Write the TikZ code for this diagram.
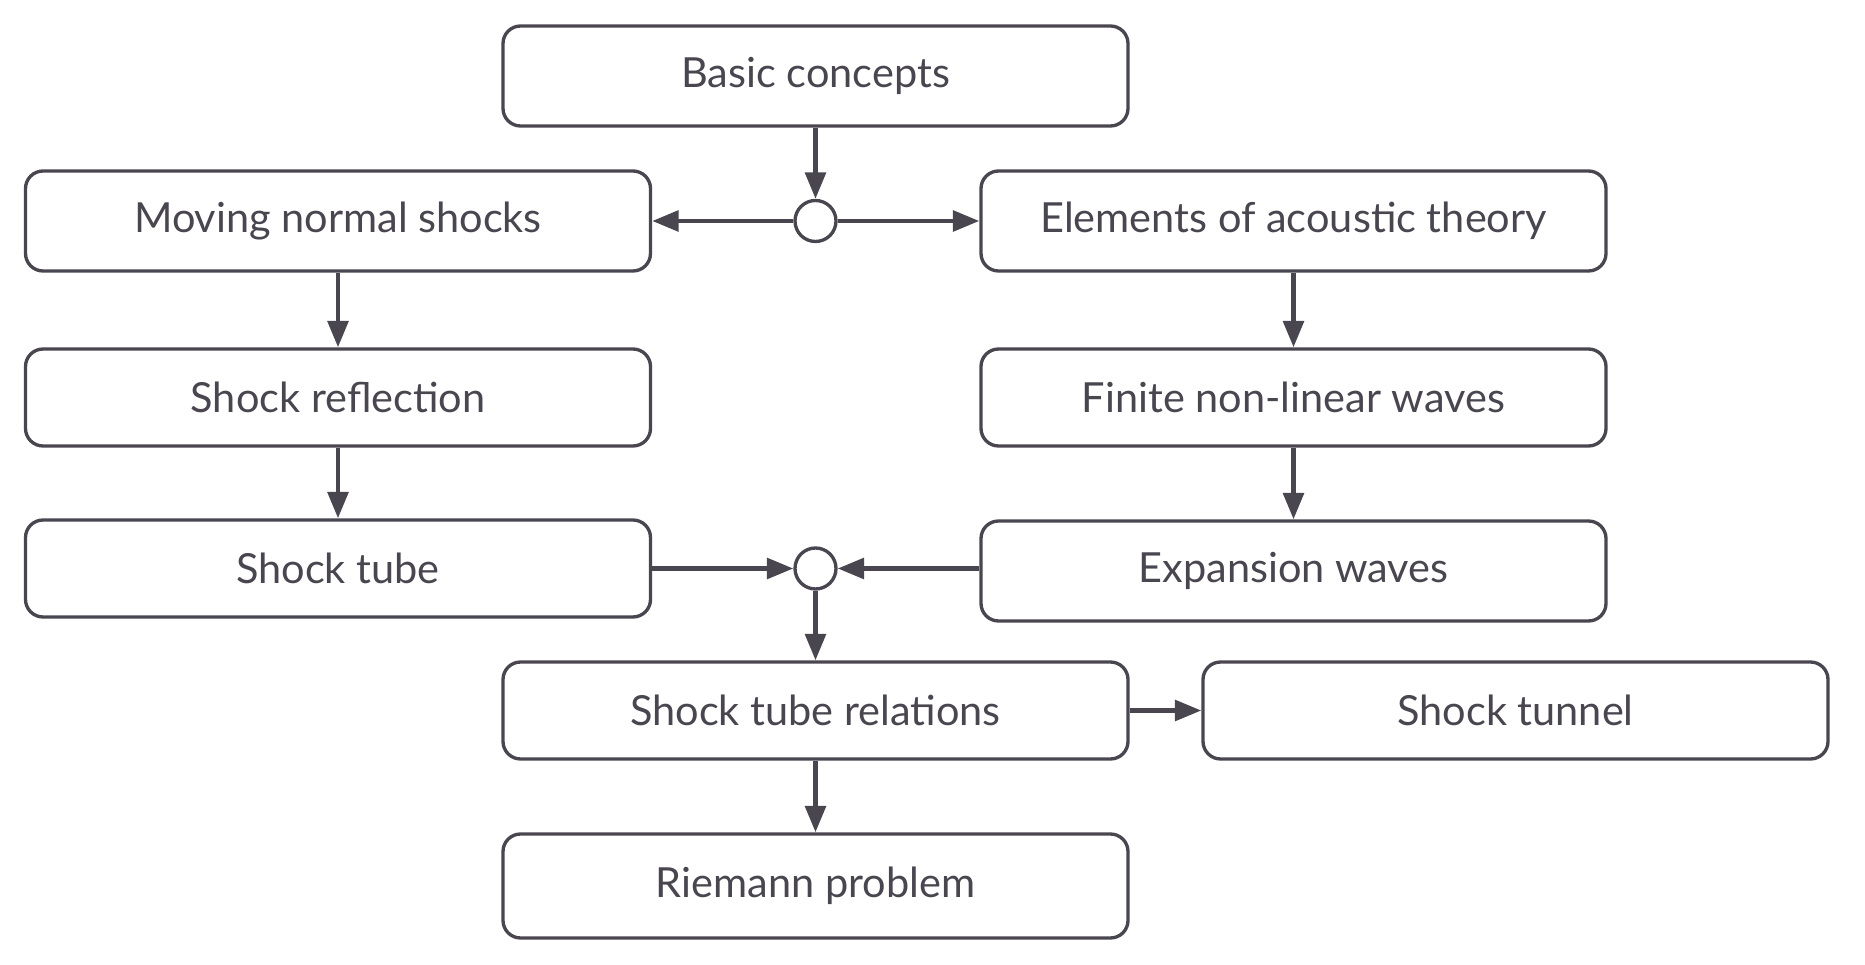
\documentclass[tikz,border=0pt]{standalone}
\usepackage{fontspec}
\setmainfont{Lato}
\usetikzlibrary{arrows.meta}
\definecolor{ink}{HTML}{4A4650}
\begin{document}
\begin{tikzpicture}[font=\fontsize{11.8}{14}\selectfont,
  topic/.style={draw=ink,line width=0.95pt,rounded corners=5pt,fill=white,
    minimum width=6.25cm,minimum height=1cm,text=ink,inner sep=0pt},
  joint/.style={circle,draw=ink,line width=0.95pt,fill=white,minimum size=0.41cm,inner sep=0pt},
  link/.style={draw=ink,line width=1.3pt,-{Triangle[length=7.5pt,width=5.8pt]}}]
\useasboundingbox (0,0) rectangle (18.65,9.64);
% top
\node[topic] (basic) at (8.155,8.88) {Basic concepts};
\node[joint] (j1) at (8.155,7.43) {};
\node[topic] (moving) at (3.38,7.43) {Moving normal shocks};
\node[topic] (acoustic) at (12.935,7.43) {Elements of acoustic theory};
% middle columns
\node[topic,minimum height=0.97cm] (reflect) at (3.38,5.665) {Shock reflection};
\node[topic,minimum height=0.97cm] (finite) at (12.935,5.665) {Finite non-linear waves};
\node[topic,minimum height=0.97cm] (tube) at (3.38,3.955) {Shock tube};
\node[topic] (expansion) at (12.935,3.93) {Expansion waves};
\node[joint] (j2) at (8.155,3.955) {};
% bottom
\node[topic,minimum height=0.97cm] (relations) at (8.155,2.535) {Shock tube relations};
\node[topic,minimum height=0.97cm] (tunnel) at (15.155,2.535) {Shock tunnel};
\node[topic,minimum height=1.04cm] (riemann) at (8.155,0.78) {Riemann problem};
\draw[link] (basic) -- (j1);
\draw[link] (j1) -- (moving);
\draw[link] (j1) -- (acoustic);
\draw[link] (moving) -- (reflect);
\draw[link] (reflect) -- (tube);
\draw[link] (acoustic) -- (finite);
\draw[link] (finite) -- (expansion);
\draw[link] (tube) -- (j2);
\draw[link] (expansion.west |- j2) -- (j2);
\draw[link] (j2) -- (relations);
\draw[link] (relations) -- (tunnel);
\draw[link] (relations) -- (riemann);
\end{tikzpicture}
\end{document}
